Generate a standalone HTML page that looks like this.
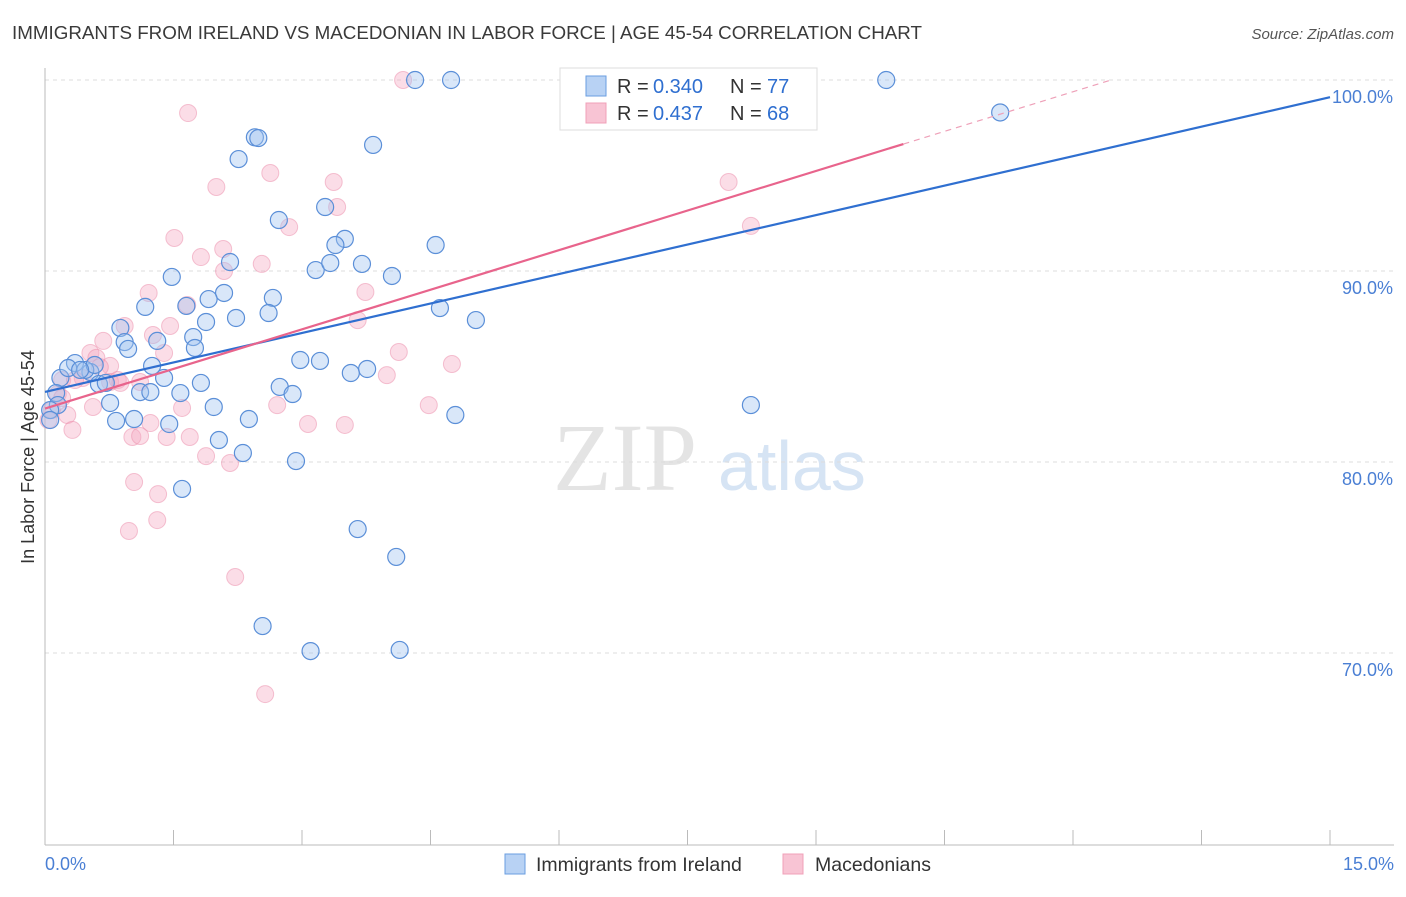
<!DOCTYPE html>
<html><head><meta charset="utf-8"><style>
body{margin:0;background:#fff;font-family:"Liberation Sans",sans-serif;}
</style></head><body>
<svg id="chart" width="1406" height="892" xmlns="http://www.w3.org/2000/svg" font-family="Liberation Sans, sans-serif">
<text x="12" y="39" font-size="18.8" fill="#3a3a3a">IMMIGRANTS FROM IRELAND VS MACEDONIAN IN LABOR FORCE | AGE 45-54 CORRELATION CHART</text>
<text x="1394" y="39" font-size="15" fill="#555" font-style="italic" text-anchor="end">Source: ZipAtlas.com</text>
<text x="553" y="490" font-size="96" fill="#e4e4e4" font-family="Liberation Serif, serif">ZIP</text>
<text x="718" y="490" font-size="70" fill="#d6e4f4">atlas</text>
<text transform="translate(34,457) rotate(-90)" font-size="18" fill="#333" text-anchor="middle">In Labor Force | Age 45-54</text>
<g id="grid"></g><g id="axes"></g><g id="pts"></g><g id="lines"></g>
<g>
<rect x="560" y="68" width="257" height="62" fill="#fff" stroke="#ddd"/>
<rect x="586" y="76" width="20" height="20" fill="#b8d2f4" stroke="#6a9ee0"/>
<rect x="586" y="103" width="20" height="20" fill="#f8c4d4" stroke="#f0a0b8"/>
<text x="617" y="93" font-size="20" fill="#333">R =</text>
<text x="653" y="93" font-size="20" fill="#2f6fd0">0.340</text>
<text x="730" y="93" font-size="20" fill="#333">N =</text>
<text x="767" y="93" font-size="20" fill="#2f6fd0">77</text>
<text x="617" y="120" font-size="20" fill="#333">R =</text>
<text x="653" y="120" font-size="20" fill="#2f6fd0">0.437</text>
<text x="730" y="120" font-size="20" fill="#333">N =</text>
<text x="767" y="120" font-size="20" fill="#2f6fd0">68</text>
</g>
<g>
<rect x="505" y="854" width="20" height="20" fill="#b8d2f4" stroke="#6a9ee0"/>
<text x="536" y="871" font-size="19.5" fill="#333">Immigrants from Ireland</text>
<rect x="783" y="854" width="20" height="20" fill="#f8c4d4" stroke="#f0a0b8"/>
<text x="815" y="871" font-size="19.5" fill="#333">Macedonians</text>
</g>
</svg>
<script>
const blueX=[4.32,4.74,9.82,11.15,2.45,2.49,3.83,2.26,2.73,3.27,3.50,3.39,4.56,2.16,3.16,3.33,3.70,4.05,1.48,2.66,2.09,1.91,1.17,1.65,4.61,2.61,2.23,1.88,5.03,0.88,0.93,1.31,1.73,0.97,1.75,2.98,3.21,0.35,1.25,3.76,3.57,0.18,0.27,0.53,1.39,1.82,2.74,0.63,0.71,2.89,1.11,1.23,1.58,0.13,0.76,1.97,0.15,4.79,8.24,0.83,1.04,2.38,1.45,2.03,2.31,2.93,1.60,3.65,4.10,2.54,3.10,4.14,0.06,0.06,0.47,0.58,0.41];
const blueY=[100,100,100,98.3,97.0,96.96,96.6,95.86,92.67,93.35,91.68,91.36,91.36,90.47,90.05,90.42,90.37,89.74,89.69,88.59,88.85,88.53,88.12,88.17,88.06,87.8,87.54,87.33,87.43,87.02,86.28,86.34,86.54,85.92,85.97,85.34,85.29,85.18,85.03,84.87,84.66,84.4,84.92,84.71,84.4,84.14,83.93,84.08,84.14,83.56,83.66,83.66,83.61,83.61,83.09,82.88,82.98,82.46,82.98,82.15,82.25,82.25,81.99,81.15,80.47,80.05,78.59,76.49,75.03,71.41,70.1,70.16,82.72,82.2,84.82,85.08,84.82];
const pinkX=[4.18,8.09,1.67,2.0,2.63,3.37,3.41,2.85,7.98,8.24,1.51,2.08,1.82,2.09,2.53,1.21,1.66,3.74,1.46,0.93,1.26,0.68,1.39,3.65,4.13,4.75,3.99,0.53,0.6,0.76,0.76,0.85,0.44,0.2,0.35,0.15,0.2,0.26,0.32,0.56,1.23,1.02,1.11,1.42,1.69,1.6,2.71,3.07,3.5,4.48,1.88,2.16,1.04,1.32,1.31,0.98,2.22,2.57,0.04,0.08,0.64,0.88,1.11];
const pinkY=[100,100,98.27,94.4,95.13,94.66,93.35,92.3,94.66,92.36,91.73,91.15,90.73,90.0,90.37,88.85,88.22,88.9,87.12,87.12,86.65,86.34,85.71,87.43,85.76,85.13,84.55,85.71,85.45,85.03,84.19,84.29,84.4,84.29,84.29,83.56,83.35,82.46,81.68,82.88,82.04,81.31,81.36,81.31,81.31,82.83,82.98,81.99,81.94,82.98,80.31,79.95,78.95,78.32,76.96,76.39,73.98,67.85,82.2,82.72,84.97,84.14,84.19];
const blueTrend=[83.67,99.1];   // y at x=0 and x=15
const pinkTrend=[82.8,1.382];    // intercept, slope
const yTicks=[100,90,80,70];
const xTickLabels=["0.0%","15.0%"];
const NS="http://www.w3.org/2000/svg";
const sx=v=>45+v*(1285/15);
const sy=v=>80+(100-v)*19.1;
function mk(tag,attrs,parent){const e=document.createElementNS(NS,tag);for(const k in attrs)e.setAttribute(k,attrs[k]);document.getElementById(parent).appendChild(e);return e;}
yTicks.forEach(t=>{
  const g=mk('line',{x1:45,x2:1394,y1:sy(t),y2:sy(t),stroke:'#ddd','stroke-dasharray':'4,4'},'grid');
  
  
  const l=mk('text',{x:1393,y:sy(t)+23,'font-size':18,fill:'#4a7fd4','text-anchor':'end'},'axes');
  l.textContent=t.toFixed(1)+'%';
  
  
});
mk('line',{x1:45,x2:45,y1:68,y2:845,stroke:'#bbb'},'axes');
mk('line',{x1:45,x2:1394,y1:845,y2:845,stroke:'#bbb'},'axes');
for(let i=0;i<=10;i++){const x=sx(i*1.5);const t=mk('line',{x1:x,x2:x,y1:830,y2:845,stroke:'#bbb'},'axes');
  
  }
const xl0=mk('text',{x:45,y:870,'font-size':18,fill:'#4a7fd4'},'axes');xl0.textContent=xTickLabels[0];


const xl1=mk('text',{x:1394,y:870,'font-size':18,fill:'#4a7fd4','text-anchor':'end'},'axes');xl1.textContent=xTickLabels[1];


pinkX.forEach((x,i)=>{const c=mk('circle',{cx:sx(x),cy:sy(pinkY[i]),r:8.5,fill:'rgba(245,170,195,0.4)',stroke:'rgba(235,140,170,0.5)','stroke-width':1},'pts');
  
  });
blueX.forEach((x,i)=>{const c=mk('circle',{cx:sx(x),cy:sy(blueY[i]),r:8.5,fill:'rgba(160,196,240,0.4)',stroke:'#5b8fd8','stroke-width':1.2},'pts');
  
  });
const bl=mk('line',{x1:sx(0),y1:sy(blueTrend[0]),x2:sx(15),y2:sy(blueTrend[1]),stroke:'#2f6fd0','stroke-width':2.2},'lines');


const pEnd=10.02,pMax=(100-pinkTrend[0])/pinkTrend[1];
const pl=mk('line',{x1:sx(0),y1:sy(pinkTrend[0]),x2:sx(pEnd),y2:sy(pinkTrend[0]+pinkTrend[1]*pEnd),stroke:'#e8648c','stroke-width':2.2},'lines');


const pd=mk('line',{x1:sx(pEnd),y1:sy(pinkTrend[0]+pinkTrend[1]*pEnd),x2:sx(pMax),y2:sy(100),stroke:'#eea0b8','stroke-width':1.2,'stroke-dasharray':'6,5'},'lines');


</script>
</body></html>
